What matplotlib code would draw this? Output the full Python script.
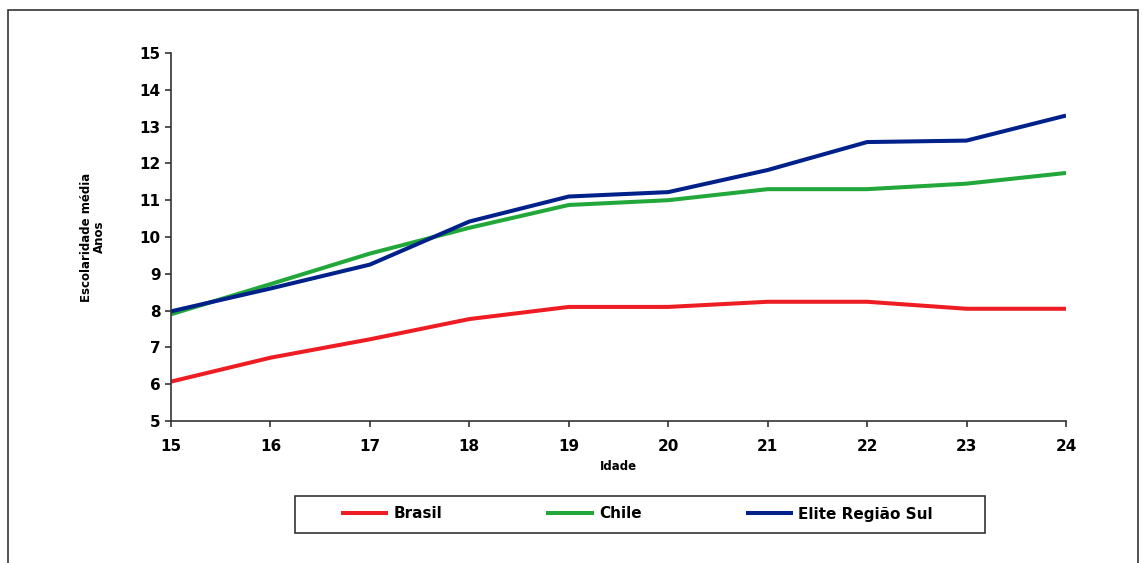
import numpy as np
import matplotlib.pyplot as plt
from matplotlib.patches import Rectangle

# Escolaridade média por idade
idades = [15, 16, 17, 18, 19, 20, 21, 22, 23, 24]
brasil = [6.07, 6.72, 7.22, 7.77, 8.1, 8.1, 8.24, 8.24, 8.05, 8.05]
chile = [7.9, 8.72, 9.55, 10.25, 10.87, 11.0, 11.3, 11.3, 11.45, 11.74]
elite_sul = [7.98, 8.6, 9.25, 10.42, 11.1, 11.22, 11.82, 12.58, 12.62, 13.3]

series = [
    ("Brasil", brasil, "#EE1D23"),
    ("Chile", chile, "#22A83A"),
    ("Elite Região Sul", elite_sul, "#00208A"),
]

W, H = 1143, 563
fig = plt.figure(figsize=(W / 100, H / 100), dpi=100)
fig.patch.set_facecolor("white")

# moldura externa
fig.patches.append(Rectangle((8 / W, -0.05), 1130 / W, 1.05 - 10 / H,
                             transform=fig.transFigure, fill=False,
                             edgecolor="#333333", linewidth=1.2))

ax = fig.add_axes([171 / W, 1 - 421 / H, 895 / W, 368 / H])
linhas = []
for nome, valores, cor in series:
    l, = ax.plot(idades, valores, color=cor, linewidth=2.9, label=nome,
                 solid_capstyle="butt")
    linhas.append(l)

ax.set_xlim(15, 24)
ax.set_ylim(5, 15)
ax.set_xticks(idades)
ax.set_yticks(np.arange(5, 16, 1))
for s in ["top", "right"]:
    ax.spines[s].set_visible(False)
for s in ["left", "bottom"]:
    ax.spines[s].set_color("#333333")
    ax.spines[s].set_linewidth(1.2)
ax.tick_params(direction="out", length=4, width=1.2, color="#333333",
               labelsize=11)
ax.tick_params(axis="x", pad=9)
for t in ax.get_xticklabels() + ax.get_yticklabels():
    t.set_fontweight("bold")

ax.set_xlabel("Idade", fontsize=8.5, fontweight="bold", labelpad=4)
ax.set_ylabel("Escolaridade média\nAnos", fontsize=8.5, fontweight="bold",
              labelpad=24, linespacing=1.0)

# caixa da legenda desenhada à parte
fig.patches.append(Rectangle((295 / W, 1 - 533 / H), 690 / W, 37 / H,
                             transform=fig.transFigure, fill=False,
                             edgecolor="#333333", linewidth=1.2))
leg = fig.legend(handles=linhas, loc="center", ncol=3,
                 bbox_to_anchor=(637 / W, 1 - 514 / H),
                 frameon=False, handlelength=3.1, handletextpad=0.35,
                 columnspacing=6.8,
                 prop={"size": 11, "weight": "bold"})

fig.savefig("out.png", dpi=100)
